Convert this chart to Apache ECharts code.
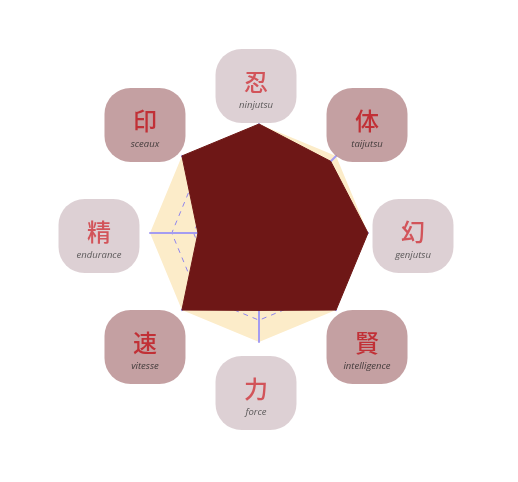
<!DOCTYPE html>
<html>
<head>
<meta charset="utf-8">
<script src="https://cdn.jsdelivr.net/npm/echarts@6/dist/echarts.min.js"></script>
<style>
html,body{margin:0;padding:0;background:#fff;}
#chart{width:518px;height:482px;}
</style>
</head>
<body>
<div id="chart"></div>
<script>
// Indicators listed counter-clockwise from the top (ECharts radar order)
const indicators = ['ninjutsu', 'sceaux', 'endurance', 'vitesse', 'force', 'intelligence', 'genjutsu', 'taijutsu'];
const kanji = ['忍', '印', '精', '速', '力', '賢', '幻', '体'];
const values = [100, 100, 56, 100, 71, 100, 100, 93];
const tones = ['light', 'dark', 'light', 'dark', 'light', 'dark', 'light', 'dark'];
const maxValue = 100;

const boxStyles = {
  light: { bg: '#d5c4c9', kanji: '#d0343b', text: '#3a3a3a' },
  dark: { bg: '#b5888b', kanji: '#c0141b', text: '#222222' }
};
// small per-label layout nudges (pixels)
const labelNudge = { ninjutsu: [0, 7] };

const purple = '#8f85ee';
const spokeColor = '#a49cf1';

const chart = echarts.init(document.getElementById('chart'), null, { renderer: 'canvas' });

const labelData = indicators.map(function (name, i) {
  const s = boxStyles[tones[i]];
  return {
    value: [1, i],
    label: {
      show: true,
      position: 'inside',
      offset: labelNudge[name] || [0, 0],
      formatter: '{k|' + kanji[i] + '}\n{e|' + name + '}',
      backgroundColor: s.bg,
      borderRadius: 26,
      width: 81,
      padding: [18, 0, 10, 0],
      align: 'center',
      verticalAlign: 'middle',
      rich: {
        k: { fontFamily: 'Noto Sans CJK JP', fontSize: 24, fontWeight: 500, lineHeight: 30, color: s.kanji, align: 'center' },
        e: { fontFamily: 'Open Sans', fontStyle: 'italic', fontSize: 9.5, lineHeight: 16, color: s.text, align: 'center' }
      }
    }
  };
});

chart.setOption({
  animation: false,
  backgroundColor: '#ffffff',
  radar: {
    center: [259, 233],
    radius: 109,
    startAngle: 90,
    splitNumber: 5,
    shape: 'polygon',
    indicator: indicators.map(function (n) { return { name: n, min: 0, max: maxValue }; }),
    axisName: { show: false },
    axisLine: { show: true, lineStyle: { color: spokeColor, width: 2 } },
    axisTick: { show: false },
    axisLabel: { show: false },
    splitLine: {
      lineStyle: {
        color: [purple, purple, purple, purple, purple, 'rgba(0,0,0,0)'],
        type: [5, 5],
        width: 1
      }
    },
    splitArea: { areaStyle: { color: ['#fcecc9'] } }
  },
  polar: { center: [256, 236], radius: 157 },
  angleAxis: {
    type: 'category',
    data: indicators,
    startAngle: 90,
    clockwise: false,
    boundaryGap: false,
    show: false
  },
  radiusAxis: {
    type: 'value',
    min: 0,
    max: 1,
    show: false
  },
  series: [
    {
      type: 'radar',
      symbol: 'none',
      lineStyle: { color: '#6e1716', width: 1 },
      areaStyle: { color: '#6e1716', opacity: 1 },
      data: [{ value: values, name: 'stats' }]
    },
    {
      type: 'scatter',
      coordinateSystem: 'polar',
      clip: false,
      symbolSize: 1,
      itemStyle: { color: 'rgba(0,0,0,0)' },
      silent: true,
      data: labelData
    }
  ]
});
</script>
</body>
</html>
